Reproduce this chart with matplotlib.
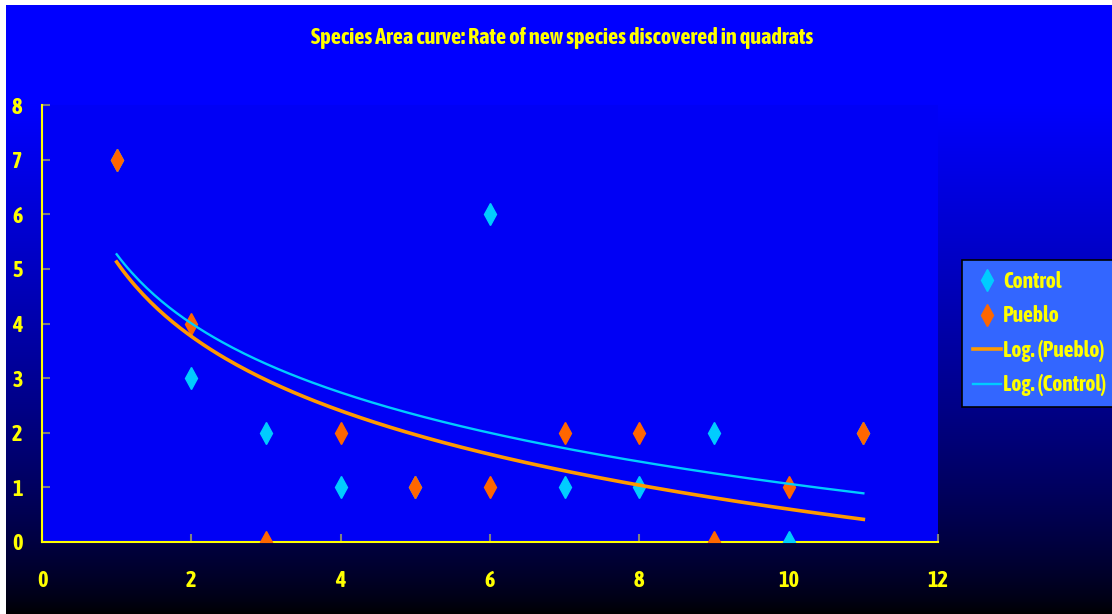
# Species area curve - recreated with matplotlib
import numpy as np
import matplotlib
matplotlib.use("Agg")
import matplotlib.pyplot as plt
from matplotlib import font_manager


def is_bold(f):
    w = f.weight
    if isinstance(w, str):
        w = font_manager.weight_dict.get(w, 400)
    return w >= 600


# look for a narrow / condensed sans font that has a bold face
narrow_bold = sorted(set(f.name for f in font_manager.fontManager.ttflist
                         if ("Narrow" in f.name or "Condensed" in f.name) and is_bold(f)))
main_font = narrow_bold[0] if narrow_bold else "Liberation Sans"
plt.rcParams['font.family'] = [main_font, 'Liberation Sans', 'DejaVu Sans']
plt.rcParams['font.weight'] = 'bold'

# Data
quadrats = [1, 2, 3, 4, 5, 6, 7, 8, 9, 10, 11]
control = [7, 3, 2, 1, 1, 6, 1, 1, 2, 0, 2]
pueblo = [7, 4, 0, 2, 1, 1, 2, 2, 0, 1, 2]

title = "Species Area curve: Rate of new species discovered in quadrats"
yellow = "#FFFF00"

fig = plt.figure(figsize=(11.12, 6.14), dpi=100, facecolor="white")

# blue to black gradient behind everything (white strip left/top like the original)
bg = fig.add_axes([6 / 1112, 0, 1 - 6 / 1112, 609 / 614], zorder=-10)
t = np.linspace(1, 0, 400)
t = np.clip(t * 609 / 514, 0, 1) ** 0.7
grad = np.zeros((400, 1, 3))
grad[:, 0, 2] = t
bg.imshow(grad, aspect="auto", extent=[0, 1, 0, 1])
bg.axis("off")

ax = fig.add_axes([42 / 1112, 72 / 614, 896 / 1112, 437 / 614])
ax.set_facecolor("#0000F5")

# scatter series
ax.plot(quadrats, control, linestyle="none", marker="d", markersize=11,
        color="#00CCFF", markeredgecolor="#00CCFF", label="Control", zorder=3)
ax.plot(quadrats, pueblo, linestyle="none", marker="d", markersize=11,
        color="#FF6600", markeredgecolor="#FF6600", label="Pueblo", zorder=3)

# logarithmic trend lines (least squares on ln x, like Excel)
xs = np.linspace(quadrats[0], quadrats[-1], 200)
bp, ap = np.polyfit(np.log(quadrats), pueblo, 1)
bc, ac = np.polyfit(np.log(quadrats), control, 1)
ax.plot(xs, ap + bp * np.log(xs), color="#FF9900", lw=2.6, label="Log. (Pueblo)", zorder=4)
ax.plot(xs, ac + bc * np.log(xs), color="#00CCFF", lw=1.7, label="Log. (Control)", zorder=4)

ax.set_xlim(0, 12)
ax.set_ylim(0, 8)
ax.set_xticks(range(0, 13, 2))
ax.set_yticks(range(0, 9))

for s in ["top", "right"]:
    ax.spines[s].set_visible(False)
for s in ["left", "bottom"]:
    ax.spines[s].set_color(yellow)
    ax.spines[s].set_linewidth(1.5)

ax.tick_params(axis="x", direction="in", length=6, color="#808080", width=1.5,
               labelcolor=yellow, labelsize=16, pad=20)
ax.tick_params(axis="y", direction="in", length=6, color="#808080", width=1.5,
               labelcolor=yellow, labelsize=16, pad=14)

fig.text(562 / 1112, 1 - 38 / 614, title, color=yellow, fontsize=16,
         fontweight="bold", ha="center", va="center")

leg = fig.legend(loc="upper left", bbox_to_anchor=(962 / 1112, 1 - 260 / 614),
                 frameon=True, fancybox=False, fontsize=15.5, labelcolor=yellow,
                 facecolor="#3366FF", edgecolor="black", framealpha=1,
                 handlelength=1.3, handletextpad=0.12, borderpad=0.5,
                 labelspacing=0.58, borderaxespad=0)
leg.get_frame().set_linewidth(1.2)

fig.savefig("out.png", dpi=100, facecolor=fig.get_facecolor())
